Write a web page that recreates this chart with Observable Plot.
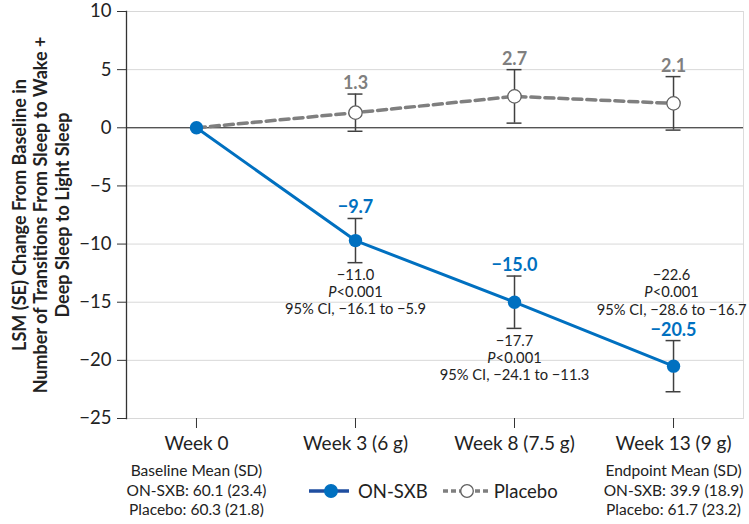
<!DOCTYPE html>
<html><head><meta charset="utf-8">
<script src="https://cdn.jsdelivr.net/npm/d3@7"></script>
<script src="https://cdn.jsdelivr.net/npm/@observablehq/plot@0.6"></script>
<style>
body{margin:0;background:#fff;font-family:Lato,sans-serif;}
#wrap{position:relative;width:749px;height:524px;}
#legend{position:absolute;left:309px;top:480px;display:flex;align-items:center;font-size:18.5px;color:#222;font-family:Lato,sans-serif;}
#legend svg{display:block;}
</style></head><body><div id="wrap"></div>
<script>
const weeks = ["Week 0", "Week 3 (6 g)", "Week 8 (7.5 g)", "Week 13 (9 g)"];
const onsxbLsm = [0, -9.7, -15.0, -20.5];
const onsxbSe = [0, 1.9, 2.25, 2.2];
const placeboLsm = [0, 1.3, 2.7, 2.1];
const placeboSe = [0, 1.6, 2.3, 2.3];
const diffLines = [
  null,
  ["−11.0", "P<0.001", "95% CI, −16.1 to −5.9"],
  ["−17.7", "P<0.001", "95% CI, −24.1 to −11.3"],
  ["−22.6", "P<0.001", "95% CI, −28.6 to −16.7"]
];
const baselineLines = ["Baseline Mean (SD)", "ON-SXB: 60.1 (23.4)", "Placebo: 60.3 (21.8)"];
const endpointLines = ["Endpoint Mean (SD)", "ON-SXB: 39.9 (18.9)", "Placebo: 61.7 (23.2)"];
const yTicks = [-25, -20, -15, -10, -5, 0, 5, 10];
const yTitle = ["LSM (SE) Change From Baseline in", "Number of Transitions From Sleep to Wake +", "Deep Sleep to Light Sleep"];
const seriesNames = ["ON-SXB", "Placebo"];

const BLUE = "#0070C0", GRAY = "#7f7f7f", BAR = "#404040";
const fmt = d3.format(".1f");

const onData = weeks.map((w, i) => ({i, v: onsxbLsm[i], lo: onsxbLsm[i] - onsxbSe[i], hi: onsxbLsm[i] + onsxbSe[i]}));
const plData = weeks.map((w, i) => ({i, v: placeboLsm[i], lo: placeboLsm[i] - placeboSe[i], hi: placeboLsm[i] + placeboSe[i]}));
const onErr = onData.filter(d => d.i > 0);
const plErr = plData.filter(d => d.i > 0);
const annBelow = onData.filter(d => d.i === 1 || d.i === 2).map(d => ({...d, text: diffLines[d.i].join("\n")}));
const annAbove = onData.filter(d => d.i === 3).map(d => ({...d, text: diffLines[d.i].join("\n")}));
const bottomNotes = [{i: 0, text: baselineLines.join("\n")}, {i: weeks.length - 1, text: endpointLines.join("\n")}];
const capW = 0.047;

const plot = Plot.plot({
  width: 749,
  height: 524,
  marginLeft: 126,
  marginRight: 6,
  marginTop: 11,
  marginBottom: 106,
  style: {fontFamily: "Lato, sans-serif", color: "#222", background: "#fff", overflow: "visible"},
  x: {type: "linear", domain: [-0.44, weeks.length - 1 + 0.44]},
  y: {domain: [-25, 10]},
  marks: [
    Plot.gridY(yTicks.filter(t => t !== 0), {stroke: "#d8d8d8", strokeOpacity: 1}),
    Plot.frame({anchor: "right", stroke: "#dcdcdc"}),
    Plot.ruleY([0], {stroke: "#111", strokeWidth: 1}),
    Plot.frame({anchor: "left", stroke: "#333", strokeWidth: 1.3}),
    Plot.axisY({ticks: yTicks, tickSize: 9, tickPadding: 6, fontSize: 18.5, label: null, stroke: "#333", tickFormat: d3.format("d")}),
    Plot.axisX({ticks: weeks.map((w, i) => i), tickFormat: i => weeks[i], tickSize: 10, tickPadding: 8, fontSize: 19, label: null, stroke: "#333"}),
    Plot.text([yTitle.join("\n")], {frameAnchor: "left", textAnchor: "middle", rotate: -90, dx: -86, fontWeight: "bold", fontSize: 18, lineHeight: 1.18, fill: "#222", text: d => d}),
    Plot.line(plData, {x: "i", y: "v", stroke: GRAY, strokeWidth: 3.5, strokeDasharray: "9,5"}),
    Plot.line(onData, {x: "i", y: "v", stroke: BLUE, strokeWidth: 3}),
    Plot.ruleX(plErr, {x: "i", y1: "lo", y2: "hi", stroke: BAR, strokeWidth: 1.5}),
    Plot.ruleY(plErr, {y: "lo", x1: d => d.i - capW, x2: d => d.i + capW, stroke: BAR, strokeWidth: 1.5}),
    Plot.ruleY(plErr, {y: "hi", x1: d => d.i - capW, x2: d => d.i + capW, stroke: BAR, strokeWidth: 1.5}),
    Plot.ruleX(onErr, {x: "i", y1: "lo", y2: "hi", stroke: BAR, strokeWidth: 1.5}),
    Plot.ruleY(onErr, {y: "lo", x1: d => d.i - capW, x2: d => d.i + capW, stroke: BAR, strokeWidth: 1.5}),
    Plot.ruleY(onErr, {y: "hi", x1: d => d.i - capW, x2: d => d.i + capW, stroke: BAR, strokeWidth: 1.5}),
    Plot.dot(plData.filter(d => d.i > 0), {x: "i", y: "v", r: 6.7, fill: "#fff", stroke: "#606060", strokeWidth: 1.3}),
    Plot.dot(onData, {x: "i", y: "v", r: 6.7, fill: BLUE}),
    Plot.text(plErr, {x: "i", y: "hi", text: d => fmt(d.v), dy: -5, lineAnchor: "bottom", fill: GRAY, fontWeight: "bold", fontSize: 18}),
    Plot.text(onErr, {x: "i", y: "hi", text: d => fmt(d.v), dy: -5, lineAnchor: "bottom", fill: BLUE, fontWeight: "bold", fontSize: 18}),
    Plot.text(annBelow, {x: "i", y: "lo", text: "text", dy: 5, lineAnchor: "top", fontSize: 14.7, lineHeight: 1.17, fill: "#222"}),
    Plot.text(annAbove, {x: "i", y: "hi", text: "text", dx: -2, dy: -26, lineAnchor: "bottom", fontSize: 14.7, lineHeight: 1.17, fill: "#222"}),
    Plot.text(bottomNotes, {x: "i", frameAnchor: "bottom", text: "text", dy: 44, lineAnchor: "top", fontSize: 15.5, lineHeight: 1.26, fill: "#222"})
  ]
});

// italic P in "P<0.001"
plot.querySelectorAll("tspan, text").forEach(el => {
  if (el.children.length === 0 && el.textContent === "P<0.001") {
    el.textContent = "";
    const it = document.createElementNS("http://www.w3.org/2000/svg", "tspan");
    it.setAttribute("font-style", "italic");
    it.textContent = "P";
    el.appendChild(it);
    el.appendChild(document.createTextNode("<0.001"));
  }
});

const wrap = document.getElementById("wrap");
wrap.appendChild(plot);

// legend
const legend = document.createElement("div");
legend.id = "legend";
const styles = [
  {line: "#1f4ea0", dash: null, fill: BLUE, stroke: BLUE, w: 40, cx: 22, gapBefore: 0, gapAfter: 9},
  {line: GRAY, dash: "5,3", fill: "#fff", stroke: "#606060", w: 46, cx: 24, gapBefore: 15, gapAfter: 5}
];
seriesNames.forEach((name, k) => {
  const s = styles[k];
  const item = document.createElement("div");
  item.style.display = "flex";
  item.style.alignItems = "center";
  item.style.marginLeft = s.gapBefore + "px";
  item.innerHTML = `<svg width="${s.w}" height="16"><line x1="0" x2="${s.w}" y1="8" y2="8" stroke="${s.line}" stroke-width="3.5" ${s.dash ? `stroke-dasharray="${s.dash}"` : ""}/><circle cx="${s.cx}" cy="8" r="6.3" fill="${s.fill}" stroke="${s.stroke}" stroke-width="1.3"/></svg><span style="margin-left:${s.gapAfter}px">${name}</span>`;
  legend.appendChild(item);
});
wrap.appendChild(legend);
</script>
</body></html>
